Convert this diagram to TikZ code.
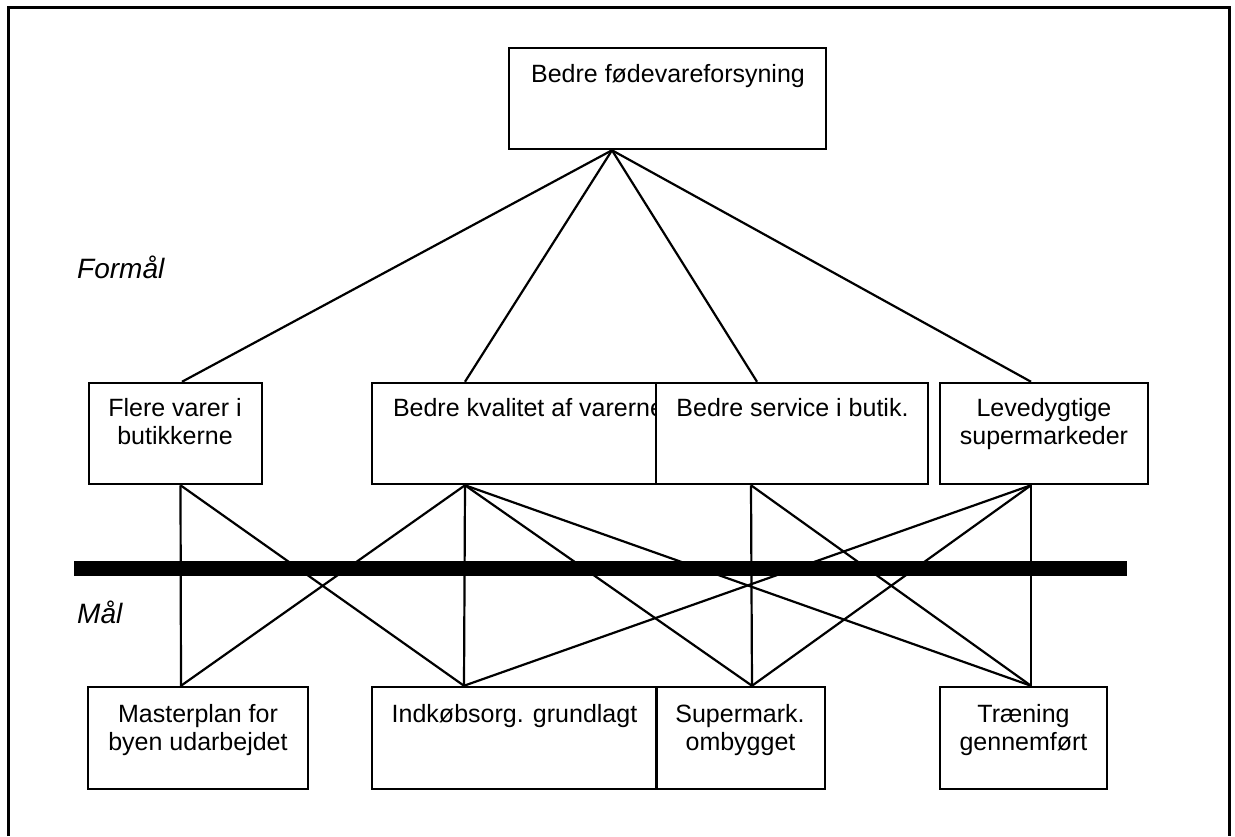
\documentclass[tikz,border=0pt]{standalone}
\usepackage{fontspec}
\setmainfont{Liberation Sans}
\usetikzlibrary{calc}
\begin{document}
\begin{tikzpicture}[x=1pt,y=-1pt,
  box/.style={draw, line width=2.5pt, fill=white, inner sep=0pt, rectangle},
  txt/.style={inner sep=0pt, anchor=base, font=\fontsize{25}{28}\selectfont},
  lbl/.style={inner sep=0pt, anchor=base west, font=\fontsize{28}{31}\selectfont\itshape},
  conn/.style={line width=2.2pt},
  frame/.style={line width=3pt}]
\useasboundingbox (0,0) rectangle (1235,836);
% outer frame
\draw[frame] (8.5,836) -- (8.5,7.5) -- (1229.5,7.5) -- (1229.5,836);
% top box
\node[box, minimum width=317pt, minimum height=101pt] (top) at (667.5,98.5) {};
\node[txt] (topT) at (668,82) {Bedre fødevareforsyning};
% middle row
\node[box, minimum width=173pt, minimum height=101pt] (flere) at (175.5,433.5) {};
\node[txt] (flereT1) at (175,416) {Flere varer i};
\node[txt] (flereT2) at (175,444) {butikkerne};
\node[box, minimum width=311pt, minimum height=101pt] (kval) at (527.5,433.5) {};
\node[txt] (kvalT) at (528.5,416) {Bedre kvalitet af varerne};
\node[box, minimum width=272pt, minimum height=101pt] (serv) at (792,433.5) {};
\node[txt] (servT) at (792.5,416) {Bedre service i butik.};
\node[box, minimum width=208pt, minimum height=101pt] (leve) at (1044,433.5) {};
\node[txt] (leveT1) at (1044,416) {Levedygtige};
\node[txt] (leveT2) at (1044,444) {supermarkeder};
% bottom row
\node[box, minimum width=220pt, minimum height=102pt] (master) at (198,738) {};
\node[txt] (masterT1) at (198,722) {Masterplan for};
\node[txt] (masterT2) at (198,750) {byen udarbejdet};
\node[box, minimum width=284pt, minimum height=102pt] (indk) at (514,738) {};
\node[txt] (indkT) at (514.5,722) {Indkøbsorg. grundlagt};
\node[box, minimum width=168pt, minimum height=102pt] (superm) at (741,738) {};
\node[txt] (supermT1) at (740,722) {Supermark.};
\node[txt] (supermT2) at (740.5,750) {ombygget};
\node[box, minimum width=167pt, minimum height=102pt] (traen) at (1023.5,738) {};
\node[txt] (traenT1) at (1023.5,722) {Træning};
\node[txt] (traenT2) at (1023.5,750) {gennemført};
% labels
\node[lbl] (formaal) at (77,278) {Formål};
\node[lbl] (maal) at (77,623) {Mål};
% attachment points
\coordinate (topS) at ([xshift=-55.5pt]top.south);
\coordinate (flereN) at ([xshift=6.5pt]flere.north);
\coordinate (flereS) at ([xshift=5pt]flere.south);
\coordinate (kvalN) at ([xshift=-62.5pt]kval.north);
\coordinate (kvalS) at ([xshift=-62.5pt]kval.south);
\coordinate (servN) at ([xshift=-35pt]serv.north);
\coordinate (servS) at ([xshift=-41pt]serv.south);
\coordinate (leveN) at ([xshift=-13pt]leve.north);
\coordinate (leveS) at ([xshift=-13pt]leve.south);
\coordinate (masterN) at ([xshift=-17pt]master.north);
\coordinate (indkN) at ([xshift=-50pt]indk.north);
\coordinate (supermN) at ([xshift=11pt]superm.north);
\coordinate (traenN) at ([xshift=7.5pt]traen.north);
% connectors top -> middle
\draw[conn] (topS) -- (flereN);
\draw[conn] (topS) -- (kvalN);
\draw[conn] (topS) -- (servN);
\draw[conn] (topS) -- (leveN);
% connectors middle -> bottom
\draw[conn] (flereS) -- (masterN);
\draw[conn] (flereS) -- (indkN);
\draw[conn] (kvalS) -- (masterN);
\draw[conn] (kvalS) -- (indkN);
\draw[conn] (kvalS) -- (supermN);
\draw[conn] (kvalS) -- (traenN);
\draw[conn] (servS) -- (supermN);
\draw[conn] (servS) -- (traenN);
\draw[conn] (leveS) -- (indkN);
\draw[conn] (leveS) -- (supermN);
\draw[conn] (leveS) -- (traenN);
% thick separator bar
\fill (74,561) rectangle (1127,576);
\end{tikzpicture}
\end{document}
